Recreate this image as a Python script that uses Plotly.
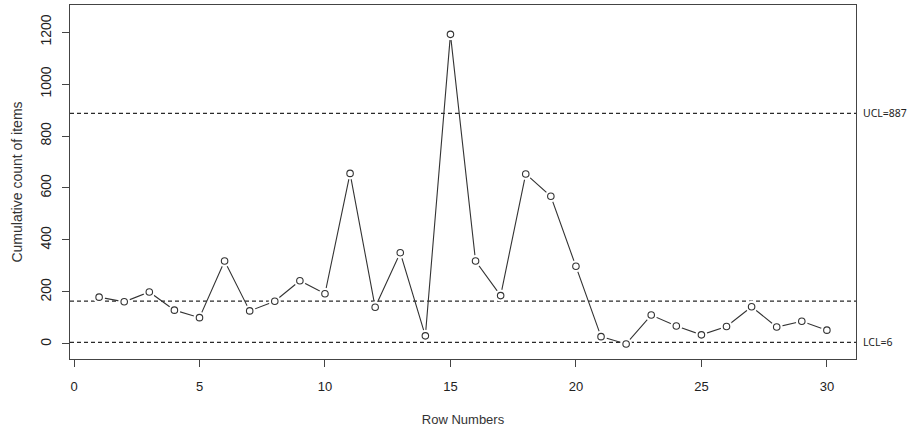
import plotly.graph_objects as go

rows = list(range(1, 31))
counts = [180, 162, 200, 130, 101, 319, 127, 164, 243, 193,
          656, 141, 351, 31, 1191, 319, 186, 654, 568, 299,
          28, 0, 111, 69, 35, 67, 143, 65, 87, 53]
center_line = 165
ucl = 887
lcl = 6
ucl_label = "UCL=887"
lcl_label = "LCL=6"
x_ticks = [0, 5, 10, 15, 20, 25, 30]
y_ticks = [0, 200, 400, 600, 800, 1000, 1200]

fig = go.Figure()
fig.add_trace(go.Scatter(x=rows, y=counts, mode="lines",
                         line=dict(color="#333333", width=1.1), hoverinfo="skip"))
fig.add_trace(go.Scatter(x=rows, y=counts, mode="markers",
                         marker=dict(size=12, color="white", line=dict(width=0)),
                         hoverinfo="skip"))
fig.add_trace(go.Scatter(x=rows, y=counts, mode="markers",
                         marker=dict(size=6.5, color="white", symbol="circle",
                                     line=dict(color="#333333", width=1.1))))

for v in [center_line, ucl, lcl]:
    fig.add_shape(type="line", xref="x domain", yref="y", x0=0, x1=1, y0=v, y1=v,
                  line=dict(color="#2a2a2a", width=1.2, dash="4px,3px"), layer="below")

for v, t in [(ucl, ucl_label), (lcl, lcl_label)]:
    fig.add_annotation(xref="paper", yref="y", x=1, y=v, xanchor="left", yanchor="middle",
                       xshift=5, text=t, showarrow=False,
                       font=dict(family="Noto Sans", size=10.5, color="#222222"))

axis_common = dict(showgrid=False, zeroline=False, showline=True, mirror=True,
                   linecolor="#444444", linewidth=1.2, ticks="outside", ticklen=7,
                   tickwidth=1, tickcolor="#444444")

fig.update_layout(
    width=911, height=435,
    margin=dict(l=70, r=55, t=5, b=76),
    paper_bgcolor="white", plot_bgcolor="white",
    showlegend=False,
    font=dict(family="Liberation Sans", color="#222222"),
    xaxis=dict(range=[-0.16, 31.16], tickvals=x_ticks, tickfont=dict(size=13),
               ticklabelstandoff=8,
               title=dict(text="Row Numbers", font=dict(size=13, color="#333333"), standoff=22),
               **axis_common),
    yaxis=dict(range=[-58, 1304], tickvals=y_ticks, tickangle=-90, tickfont=dict(size=14),
               ticklabelstandoff=5,
               title=dict(text="Cumulative count of items", font=dict(size=14, color="#333333"),
                          standoff=12),
               **axis_common),
)

fig.write_html("out.html", config={"displayModeBar": False},
               post_script="document.body.style.margin='0';")
